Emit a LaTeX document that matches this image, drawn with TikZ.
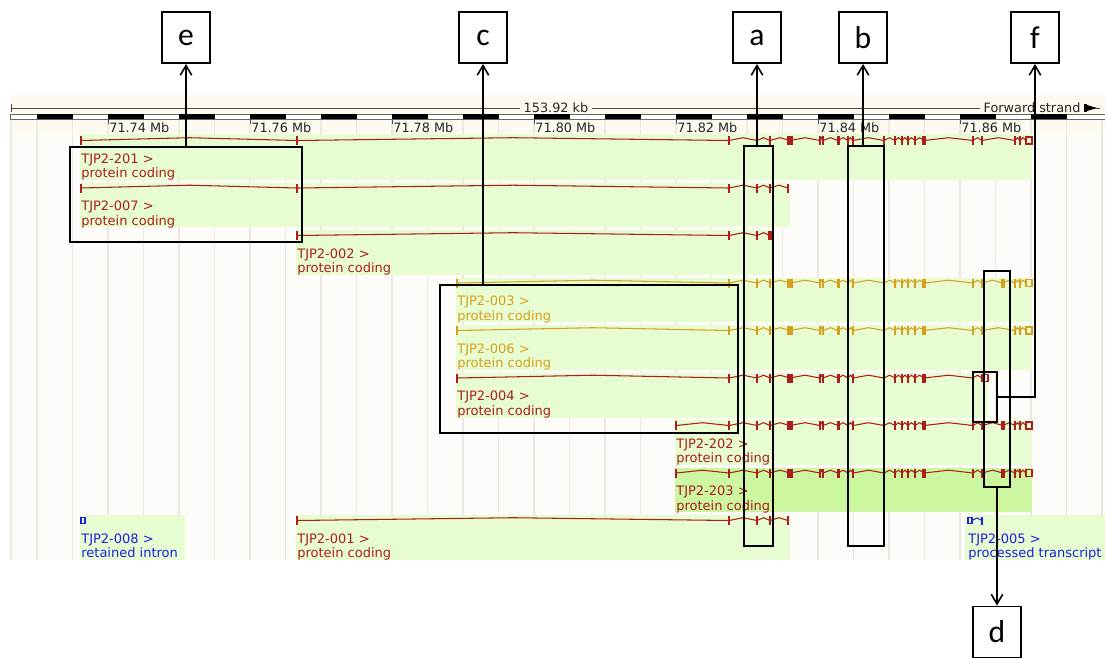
\documentclass[tikz,border=0pt]{standalone}
\usepackage{fontspec}
\setmainfont{DejaVu Sans}
\newfontfamily\tagfont{Carlito}
\usetikzlibrary{arrows.meta}

\definecolor{ensred}{RGB}{170,30,30}
\definecolor{ensgold}{RGB}{214,160,30}
\definecolor{ensblue}{RGB}{30,30,225}
\definecolor{rowbg}{RGB}{232,252,210}
\definecolor{rowhi}{RGB}{205,246,160}
\definecolor{panelbg}{RGB}{253,252,248}
\definecolor{rulerbg}{RGB}{253,249,238}
\definecolor{gridcol}{RGB}{236,233,226}

% transcript: y, colour, first x, exons x/width
\newcommand{\gene}[4]{%
  \draw[#2, line width=0.8pt] (#3,#1-4.5) -- (#3,#1+4.5);
  \foreach \ex/\ew [remember=\ex as \px (initially #3)] in {#4}{
    \draw[#2, line width=0.6pt] (\px,#1) -- ({(\px+\ex)/2},#1-2.8) -- (\ex,#1);
    \fill[#2] (\ex-\ew/2,#1-4.5) rectangle (\ex+\ew/2,#1+4.5);
  }
}
% open utr box at the end
\newcommand{\utr}[3]{\draw[#3, line width=0.7pt] (#1,#2-3.5) rectangle (#1+6,#2+3.5);}

\begin{document}
\begin{tikzpicture}[x=0.02cm, y=-0.02cm,
    >={Straight Barb[length=5.5pt,width=6.5pt]},
    letterbox/.style={draw, line width=1.1pt, fill=white, minimum width=0.96cm,
      minimum height=1.02cm, inner sep=0pt, font=\tagfont\fontsize{18}{20}\selectfont},
    region/.style={draw, line width=1.1pt, inner sep=0pt},
    tname/.style={anchor=north west, align=left, inner sep=0pt,
      font=\fontsize{7.4}{8.5}\selectfont},
    rulertext/.style={inner sep=0pt, text=black!85, font=\fontsize{7.3}{8}\selectfont},
  ]
  \useasboundingbox (0,0) rectangle (1105,657);

  % Panel
  \fill[panelbg] (10,95) rectangle (1105,560);
  \fill[rulerbg] (10,95) rectangle (1105,133);
  \foreach \k in {0,...,30}
    \draw[gridcol, line width=0.8pt] (37+35.5*\k,120) -- (37+35.5*\k,560);
  \draw[gridcol, line width=0.8pt] (11,120) -- (11,560);

  % Ruler
  \draw[black!70, line width=0.5pt] (11,108) -- (1100,108);
  \draw[black!70, line width=0.5pt] (11,104) -- (11,112);
  \node[rulertext, fill=rulerbg, inner xsep=2pt] (span) at (556,108) {153.92 kb};
  \node[rulertext, fill=rulerbg, inner xsep=2pt] (strand) at (1032,108) {Forward strand};
  \fill (1084,104) rectangle (1087,112);
  \fill (1087,105) -- (1097,108) -- (1087,111) -- cycle;
  \draw[black!60, fill=white, line width=0.4pt] (10,114) rectangle (1105,119);
  \foreach \k in {0,...,14}
    \fill (37+71*\k,114) rectangle (72.5+71*\k,119);
  \foreach \k/\mb in {0/74,1/76,2/78,3/80,4/82,5/84,6/86}{
    \draw[black!70, line width=0.5pt] (108+142*\k,119) -- (108+142*\k,124);
    \node[rulertext, anchor=west] (mb\mb) at (109+142*\k,128) {71.\mb\ Mb};
  }

  % Row backgrounds
  \fill[rowbg] (80,134) rectangle (1032,180);
  \fill[rowbg] (80,183) rectangle (790,227);
  \fill[rowbg] (296,230) rectangle (772,275);
  \fill[rowbg] (456,278) rectangle (1032,322);
  \fill[rowbg] (456,325) rectangle (1032,370);
  \fill[rowbg] (456,373) rectangle (988,418);
  \fill[rowbg] (675,420) rectangle (1032,465);
  \fill[rowhi] (675,468) rectangle (1032,512);
  \fill[rowbg] (80,515) rectangle (185,560);
  \fill[rowbg] (296,515) rectangle (790,560);
  \fill[rowbg] (965,515) rectangle (1105,560);

  % Transcripts
  \gene{140.5}{ensred}{81}{297/1.5, 729/1.5, 757/1.5, 770/2.5, 790/5.5, 820/2, 823/2, 838/3, 848/2, 853/2, 884/1.5, 895/2, 902/2, 908/2, 915/2, 924/4, 973/1.5, 982/2, 1015/2, 1020/2, 1026/0}
  \utr{1026}{140.5}{ensred}
  \gene{188}{ensred}{81}{297/1.5, 729/1.5, 757/1.5, 770/2.5, 788/2}
  \gene{235.5}{ensred}{297}{729/1.5, 757/1.5, 770/3.5}
  \gene{283}{ensgold}{457}{729/1.5, 757/1.5, 770/2.5, 790/5.5, 820/2, 823/2, 838/3, 848/2, 853/2, 884/1.5, 895/2, 902/2, 908/2, 915/2, 924/4, 973/1.5, 982/2, 1003/4, 1015/2, 1020/2, 1026/0}
  \utr{1026}{283}{ensgold}
  \gene{330.5}{ensgold}{457}{729/1.5, 757/1.5, 770/2.5, 790/5.5, 820/2, 823/2, 838/3, 848/2, 853/2, 884/1.5, 895/2, 902/2, 908/2, 915/2, 924/4, 973/1.5, 982/2, 1015/2, 1020/2, 1026/0}
  \utr{1026}{330.5}{ensgold}
  \gene{378}{ensred}{457}{729/1.5, 757/1.5, 770/2.5, 790/5.5, 820/2, 823/2, 838/3, 848/2, 853/2, 884/1.5, 895/2, 902/2, 908/2, 915/2, 924/4, 973/1.5, 982/0}
  \utr{982}{378}{ensred}
  \gene{425.5}{ensred}{676}{729/1.5, 757/1.5, 770/2.5, 790/5.5, 820/2, 823/2, 838/3, 848/2, 853/2, 884/1.5, 895/2, 902/2, 908/2, 915/2, 924/4, 973/1.5, 982/2, 1003/4, 1015/2, 1020/2, 1026/0}
  \utr{1026}{425.5}{ensred}
  \gene{473}{ensred}{676}{729/1.5, 757/1.5, 770/2.5, 790/5.5, 820/2, 823/2, 838/3, 848/2, 853/2, 884/1.5, 895/2, 902/2, 908/2, 915/2, 924/4, 973/1.5, 982/2, 1003/4, 1015/2, 1020/2, 1026/0}
  \utr{1026}{473}{ensred}
  \gene{520.5}{ensred}{297}{729/1.5, 757/1.5, 770/2.5, 788/2}
  \draw[ensblue, line width=0.8pt] (81,517.5) rectangle (85,523.5);
  \draw[ensblue, line width=0.8pt] (968,517.5) rectangle (972,523.5);
  \draw[ensblue, line width=0.6pt] (972,520.5) -- (977,518) -- (982,520.5);
  \fill[ensblue] (981.2,516.5) rectangle (982.8,524.5);

  % Transcript names
  \node[tname, text=ensred] (t201) at (81,153) {TJP2-201 >\\protein coding};
  \node[tname, text=ensred] (t007) at (81,200.5) {TJP2-007 >\\protein coding};
  \node[tname, text=ensred] (t002) at (297,248) {TJP2-002 >\\protein coding};
  \node[tname, text=ensgold] (t003) at (457,295.5) {TJP2-003 >\\protein coding};
  \node[tname, text=ensgold] (t006) at (457,343) {TJP2-006 >\\protein coding};
  \node[tname, text=ensred] (t004) at (457,390.5) {TJP2-004 >\\protein coding};
  \node[tname, text=ensred] (t202) at (676,438) {TJP2-202 >\\protein coding};
  \node[tname, text=ensred] (t203) at (676,485.5) {TJP2-203 >\\protein coding};
  \node[tname, text=ensblue] (t008) at (81,533) {TJP2-008 >\\retained intron};
  \node[tname, text=ensred] (t001) at (297,533) {TJP2-001 >\\protein coding};
  \node[tname, text=ensblue] (t005) at (968,533) {TJP2-005 >\\processed transcript};

  % Marked regions
  \node[region, minimum width=4.64cm, minimum height=1.9cm] (regE) at (186,194.5) {};
  \node[region, minimum width=5.96cm, minimum height=2.96cm] (regC) at (589,359) {};
  \node[region, minimum width=0.58cm, minimum height=8cm] (regA) at (758.5,346) {};
  \node[region, minimum width=0.72cm, minimum height=8cm] (regB) at (866,346) {};
  \node[region, minimum width=0.48cm, minimum height=1cm] (regF) at (985,397) {};
  \node[region, minimum width=0.52cm, minimum height=4.32cm] (regD) at (997,379) {};

  % Letters
  \node[letterbox] (lblE) at (186,37.5) {e};
  \node[letterbox] (lblC) at (483,37.5) {c};
  \node[letterbox] (lblA) at (757,37.5) {a};
  \node[letterbox] (lblB) at (863,37.5) {b};
  \node[letterbox] (lblF) at (1035,37.5) {f};
  \node[letterbox] (lblD) at (997,632) {d};

  % Pointers
  \draw[->, line width=0.9pt] (lblE |- regE.north) -- (lblE.south);
  \draw[->, line width=0.9pt] (lblC |- regC.north) -- (lblC.south);
  \draw[->, line width=0.9pt] (lblA |- regA.north) -- (lblA.south);
  \draw[->, line width=0.9pt] (lblB |- regB.north) -- (lblB.south);
  \draw[->, line width=0.9pt] (regF.east) -| (lblF.south);
  \draw[->, line width=0.9pt] (regD.south) -- (lblD.north);
\end{tikzpicture}
\end{document}
